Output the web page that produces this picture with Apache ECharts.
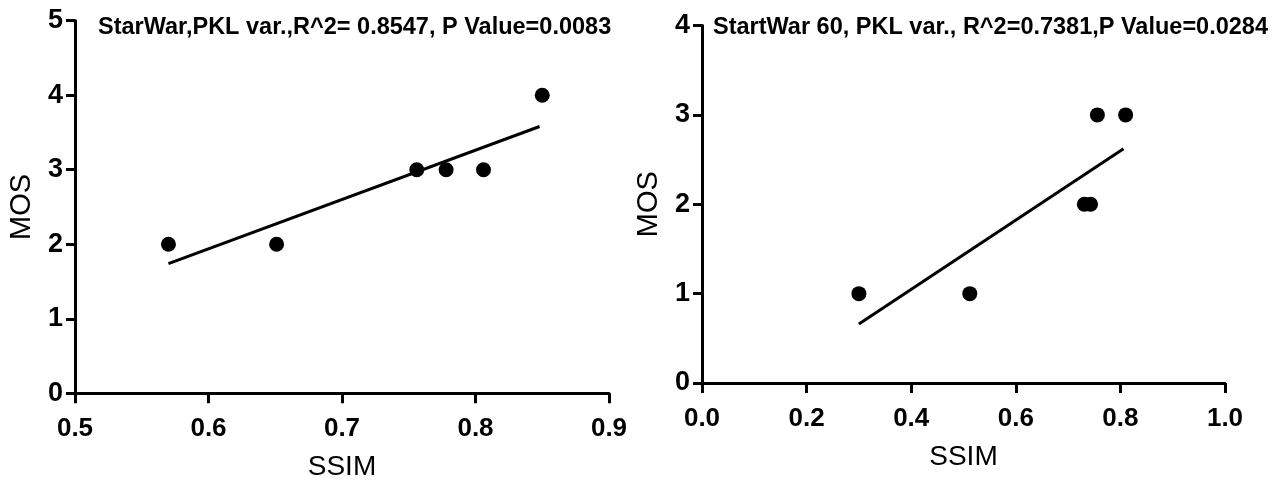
<!DOCTYPE html>
<html>
<head>
<meta charset="utf-8">
<script src="https://cdn.jsdelivr.net/npm/echarts@6/dist/echarts.min.js"></script>
<style>
  html, body { margin: 0; padding: 0; background: #fff; }
  #chart { width: 1274px; height: 482px; }
</style>
</head>
<body>
<div id="chart"></div>
<script>
// Panel 1: StarWar, PKL variation
const leftTitle = 'StarWar,PKL var.,R^2= 0.8547, P Value=0.0083';
const leftSsim = [0.570, 0.651, 0.756, 0.778, 0.806, 0.850];
const leftMos = [2, 2, 3, 3, 3, 4];
const leftFit = [[0.570, 1.74], [0.848, 3.58]];
const leftXTicks = [0.5, 0.6, 0.7, 0.8, 0.9];
const leftYTicks = [0, 1, 2, 3, 4, 5];

// Panel 2: StartWar 60, PKL variation
const rightTitle = 'StartWar 60, PKL var., R^2=0.7381,P Value=0.0284';
const rightSsim = [0.300, 0.512, 0.731, 0.743, 0.756, 0.810];
const rightMos = [1, 1, 2, 2, 3, 3];
const rightFit = [[0.300, 0.66], [0.806, 2.62]];
const rightXTicks = [0.0, 0.2, 0.4, 0.6, 0.8, 1.0];
const rightYTicks = [0, 1, 2, 3, 4];

const FONT = '"Liberation Sans", Arial, Helvetica, sans-serif';
const INK = '#000';

function pairs(xs, ys) { return xs.map((x, i) => [x, ys[i]]); }

function xAxisFor(gridIndex, ticks, digits) {
  return {
    type: 'value', gridIndex,
    min: ticks[0], max: ticks[ticks.length - 1],
    interval: +(ticks[1] - ticks[0]).toFixed(4),
    name: 'SSIM', nameLocation: 'middle', nameGap: 60,
    nameTextStyle: { fontFamily: FONT, fontSize: 28, color: INK },
    axisLine: { show: true, onZero: false, lineStyle: { color: INK, width: 3 } },
    axisTick: { show: true, length: 10, lineStyle: { color: INK, width: 3 } },
    axisLabel: { margin: 23, fontFamily: FONT, fontSize: 26, fontWeight: 'bold', color: INK,
                 formatter: v => v.toFixed(digits) },
    splitLine: { show: false }
  };
}

function yAxisFor(gridIndex, ticks) {
  return {
    type: 'value', gridIndex,
    min: ticks[0], max: ticks[ticks.length - 1], interval: 1,
    name: 'MOS', nameLocation: 'middle', nameGap: 39,
    nameTextStyle: { fontFamily: FONT, fontSize: 29, color: INK },
    axisLine: { show: true, onZero: false, lineStyle: { color: INK, width: 3 } },
    axisTick: { show: true, length: 9, lineStyle: { color: INK, width: 3 } },
    axisLabel: { margin: 12, fontFamily: FONT, fontSize: 27, fontWeight: 'bold', color: INK },
    splitLine: { show: false }
  };
}

function scatter(idx, data) {
  return {
    type: 'scatter', xAxisIndex: idx, yAxisIndex: idx, data,
    symbol: 'circle', symbolSize: 15, itemStyle: { color: INK, opacity: 1 }, z: 3
  };
}

function fitLine(idx, data) {
  return {
    type: 'line', xAxisIndex: idx, yAxisIndex: idx, data,
    showSymbol: false, symbol: 'none', lineStyle: { color: INK, width: 3 }, z: 2
  };
}

const chart = echarts.init(document.getElementById('chart'), null, { renderer: 'canvas' });
chart.setOption({
  animation: false,
  backgroundColor: '#fff',
  title: [
    { text: leftTitle, left: 93, top: 11,
      textStyle: { fontFamily: FONT, fontSize: 23.5, fontWeight: 'bold', color: INK } },
    { text: rightTitle, left: 708, top: 11,
      textStyle: { fontFamily: FONT, fontSize: 23.5, fontWeight: 'bold', color: INK } }
  ],
  grid: [
    { left: 75, top: 20.7, width: 534, height: 372.6, containLabel: false, outerBoundsMode: 'none' },
    { left: 702, top: 25.5, width: 523, height: 357.5, containLabel: false, outerBoundsMode: 'none' }
  ],
  xAxis: [xAxisFor(0, leftXTicks, 1), xAxisFor(1, rightXTicks, 1)],
  yAxis: [yAxisFor(0, leftYTicks), yAxisFor(1, rightYTicks)],
  series: [
    fitLine(0, leftFit),
    scatter(0, pairs(leftSsim, leftMos)),
    fitLine(1, rightFit),
    scatter(1, pairs(rightSsim, rightMos))
  ]
});
</script>
</body>
</html>
